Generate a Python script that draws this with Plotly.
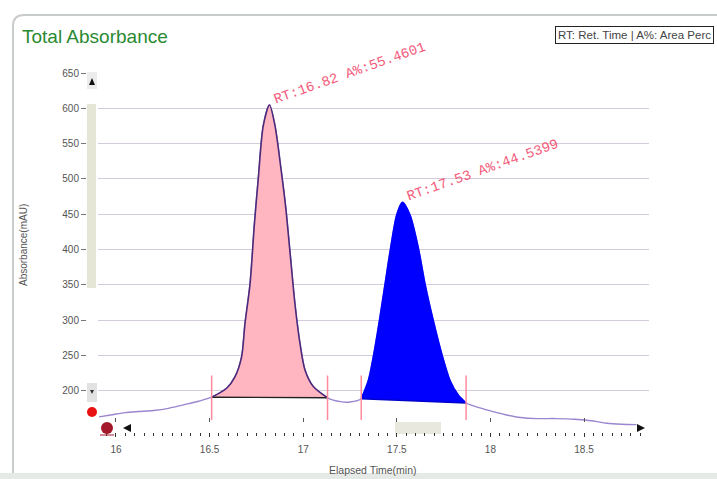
import plotly.graph_objects as go

# ---- chromatogram data -------------------------------------------------
times = [15.91, 15.98, 16.05, 16.12, 16.2, 16.28, 16.36, 16.44,
         16.511, 16.591, 16.636, 16.671, 16.689, 16.716, 16.739, 16.76,
         16.787, 16.82, 16.849, 16.881, 16.907, 16.929, 16.956, 16.983,
         17.01, 17.054, 17.13, 17.2, 17.25, 17.31, 17.348, 17.374,
         17.407, 17.437, 17.467, 17.4995, 17.53, 17.57, 17.615, 17.651,
         17.695, 17.74, 17.784, 17.829, 17.87, 17.94, 18.0, 18.08,
         18.16, 18.25, 18.35, 18.45, 18.55, 18.62, 18.7, 18.78]
absorbance = [163, 166, 169, 170.5, 172, 175, 180, 185,
              190.8, 203.5, 220, 248, 295, 351, 435, 500,
              575.7, 604.7, 575.7, 514.8, 458.6, 397.8, 322.8, 266.7,
              229, 205.8, 190, 184.5, 184, 188.7, 214.5, 247.4,
              299, 350.6, 402, 449, 466.9, 449, 402, 350.6,
              299, 252, 214.5, 193.4, 182.6, 176, 171.4, 166,
              162, 160.5, 160.5, 159.5, 157, 154, 152.5, 152]

# integrated peaks: retention time, area percent, integration window
peak_rt = [16.82, 17.53]
peak_area = [55.4601, 44.5399]
peak_start = [16.511, 17.31]
peak_end = [17.13, 17.87]
peak_fill = ["#ffb6c1", "#0000ff"]
peak_edge = ["#4b2a7b", "#0000ff"]
peak_base = ["#222222", "#0000cc"]

x_ticks = [16, 16.5, 17, 17.5, 18, 18.5]
y_ticks = [200, 250, 300, 350, 400, 450, 500, 550, 600, 650]

# ---- page geometry (pixels) --------------------------------------------
W, H = 717, 479
ML, MR, MT, MB = 86, 68, 73, 47
PW, PH = W - ML - MR, H - MT - MB


def px(x):
    return (x - ML) / PW


def py(y):
    return (H - MB - y) / PH


fig = go.Figure()

# signal trace of the whole run
fig.add_trace(go.Scatter(x=times, y=absorbance, mode="lines",
                         line=dict(color="#9a86cf", width=1.4, shape="spline", smoothing=0.8),
                         hoverinfo="skip", showlegend=False))

# filled peak areas between the signal and the drop-line baseline
for k in range(len(peak_rt)):
    seg = [(t, v) for t, v in zip(times, absorbance)
           if peak_start[k] <= t <= peak_end[k]]
    sx = [p[0] for p in seg]
    sy = [p[1] for p in seg]
    fig.add_trace(go.Scatter(x=[sx[-1], sx[0]], y=[sy[-1], sy[0]], mode="lines",
                             line=dict(color=peak_base[k], width=1.4),
                             hoverinfo="skip", showlegend=False))
    fig.add_trace(go.Scatter(x=sx, y=sy, mode="lines",
                             fill="tonexty", fillcolor=peak_fill[k],
                             line=dict(color=peak_edge[k], width=1.6,
                                       shape="spline", smoothing=0.8),
                             hoverinfo="skip", showlegend=False))

# integration window markers
bounds = []
for k in range(len(peak_rt)):
    bounds += [peak_start[k], peak_end[k]]
for b in bounds:
    fig.add_trace(go.Scatter(x=[b, b], y=[158.5, 221.5], mode="lines",
                             line=dict(color="#ff8a9c", width=1.5),
                             hoverinfo="skip", showlegend=False))

# secondary x axis: small tick marks drawn just above the scroll strip
fig.add_trace(go.Scatter(x=times, y=absorbance, xaxis="x2", mode="lines",
                         line=dict(width=0, color="rgba(0,0,0,0)"),
                         hoverinfo="skip", showlegend=False))

# peak labels
for k in range(len(peak_rt)):
    ipk = times.index(peak_rt[k])
    fig.add_annotation(x=peak_rt[k], y=absorbance[ipk],
                       text=f"RT:{peak_rt[k]:.2f} A%:{peak_area[k]:.4f}",
                       textangle=-19.5, showarrow=False,
                       xanchor="left", yanchor="bottom", xshift=0, yshift=-5,
                       font=dict(family="Liberation Mono", size=14, color="#f25a7a"))

# titles
fig.add_annotation(x=px(20), y=py(37), xref="paper", yref="paper",
                   text="Total Absorbance", showarrow=False,
                   xanchor="left", yanchor="middle",
                   font=dict(family="Liberation Sans", size=19, color="#2a8a32"))
fig.add_annotation(x=px(714), y=py(35), xref="paper", yref="paper",
                   text="RT: Ret. Time | A%: Area Perc", showarrow=False,
                   xanchor="right", yanchor="middle",
                   bordercolor="#222222", borderwidth=1, borderpad=2, bgcolor="white",
                   font=dict(family="Liberation Sans", size=11.5, color="#444444"))
fig.add_annotation(x=px(23), y=py(245), xref="paper", yref="paper",
                   text="Absorbance(mAU)", textangle=-90, showarrow=False,
                   xanchor="center", yanchor="middle",
                   font=dict(family="Liberation Sans", size=10, color="#555555"))
fig.add_annotation(x=px(373), y=py(470), xref="paper", yref="paper",
                   text="Elapsed Time(min)", showarrow=False,
                   xanchor="center", yanchor="middle",
                   font=dict(family="Liberation Sans", size=10.5, color="#555555"))

# ---- widget chrome -----------------------------------------------------
shapes = []


def rect(x0, y0, x1, y1, fill, line=None):
    shapes.append(dict(type="rect", xref="paper", yref="paper",
                       x0=px(x0), x1=px(x1), y0=py(y1), y1=py(y0),
                       fillcolor=fill, line=dict(width=0 if line is None else 1,
                                                 color=line or fill), layer="below"))


def circle(cx, cy, r, fill):
    shapes.append(dict(type="circle", xref="paper", yref="paper",
                       x0=px(cx - r), x1=px(cx + r), y0=py(cy + r), y1=py(cy - r),
                       fillcolor=fill, line=dict(width=0), layer="above"))


def poly(points, fill):
    d = "M " + " L ".join(f"{px(a):.5f},{py(b):.5f}" for a, b in points) + " Z"
    shapes.append(dict(type="path", xref="paper", yref="paper", path=d,
                       fillcolor=fill, line=dict(width=0), layer="above"))


# outer panel frame
frame = (f"M {px(13):.5f},{py(479):.5f} L {px(13):.5f},{py(26):.5f} "
         f"Q {px(13):.5f},{py(15):.5f} {px(24):.5f},{py(15):.5f} L {px(717):.5f},{py(15):.5f}")
shapes.append(dict(type="path", xref="paper", yref="paper", path=frame,
                   line=dict(color="#c9cdc9", width=2), layer="below"))
rect(0, 473, 717, 479, "#e6eae6")

# vertical scroller
rect(87, 72, 97, 89, "#ececec")
poly([(89, 85), (95, 85), (92, 78)], "#111111")
rect(87, 104, 96, 288, "#e6e6d6")
rect(87, 383, 97, 402, "#e2e2e2")
poly([(90, 390), (94, 390), (92, 394)], "#333333")
circle(92, 412, 5, "#e81212")

# horizontal scroller
circle(107, 428, 6, "#a3182a")
shapes.append(dict(type="line", xref="paper", yref="paper",
                   x0=px(100), x1=px(114), y0=py(435), y1=py(435),
                   line=dict(color="#a3182a", width=1)))
poly([(123, 428), (131, 424), (131, 432)], "#111111")
poly([(645, 428), (637, 424), (637, 432)], "#111111")
rect(395, 422, 441, 434, "#e8e8de")

fig.update_layout(
    width=W, height=H,
    margin=dict(l=ML, r=MR, t=MT, b=MB),
    paper_bgcolor="white", plot_bgcolor="white",
    shapes=shapes,
    xaxis=dict(domain=[px(98), 1], range=[15.904, 18.847],
               tickvals=x_ticks, ticktext=[f"{v:g}" for v in x_ticks],
               ticks="outside", ticklen=4, tickcolor="#333333",
               minor=dict(dtick=0.05, tick0=16, ticks="outside", ticklen=3,
                          tickcolor="#333333", showgrid=False),
               showgrid=False, zeroline=False, showline=False,
               tickfont=dict(family="Liberation Sans", size=10, color="#555555"),
               ticklabelstandoff=4),
    xaxis2=dict(overlaying="x", matches="x", anchor="free", position=py(417),
                tickvals=x_ticks, ticks="outside", ticklen=4, tickcolor="#555555",
                showticklabels=False, showgrid=False, zeroline=False, showline=False),
    yaxis=dict(range=[141.5, 650], anchor="free", position=0,
               tickvals=y_ticks, ticks="outside", ticklen=5, tickcolor="#777777",
               showgrid=True, gridcolor="#d4ccdc", gridwidth=1,
               zeroline=False, showline=False,
               tickfont=dict(family="Liberation Sans", size=10, color="#555555")),
)

fig.write_html("out.html")
